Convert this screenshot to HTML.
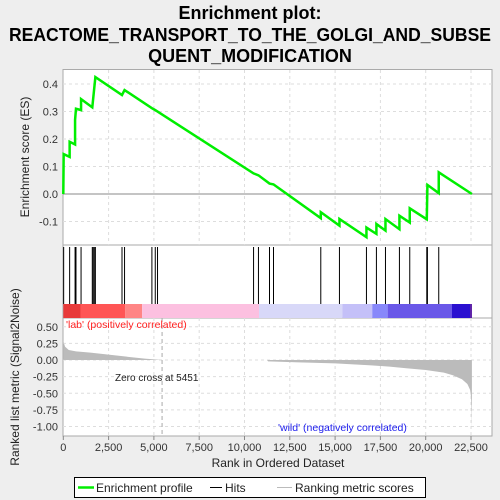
<!DOCTYPE html>
<html><head><meta charset="utf-8"><style>
body{margin:0;background:#eeeeee;}
svg{display:block;font-family:"Liberation Sans",sans-serif;}
</style></head><body>
<svg id="chart" width="500" height="500" viewBox="0 0 500 500" xmlns="http://www.w3.org/2000/svg">
<rect width="500" height="500" fill="#eeeeee"/>
<g font-weight="bold" font-size="18" text-anchor="middle" fill="#000">
<text x="250" y="19">Enrichment plot:</text>
<text x="250" y="41" textLength="482" lengthAdjust="spacingAndGlyphs">REACTOME_TRANSPORT_TO_THE_GOLGI_AND_SUBSE</text>
<text x="250" y="62">QUENT_MODIFICATION</text>
</g>
<g id="g"></g>
</svg>
<script>
const xTicks=[0,2500,5000,7500,10000,12500,15000,17500,20000,22500];
const xTickLabels=["0","2,500","5,000","7,500","10,000","12,500","15,000","17,500","20,000","22,500"];
const esTicks=[-0.1,0,0.1,0.2,0.3,0.4];
const esTickLabels=["-0.1","0.0","0.1","0.2","0.3","0.4"];
const metricTicks=[0.5,0.25,0,-0.25,-0.5,-0.75,-1.0];
const metricTickLabels=["0.50","0.25","0.00","-0.25","-0.50","-0.75","-1.00"];
const nGenes=22550;
const hitRanks=[20,350,650,700,980,1600,1650,1710,1770,3240,3380,4890,5075,5200,10500,10770,11380,11600,14210,15240,16730,17280,17780,18550,19120,20060,20095,20720];
const esRanks=[0,20,350,350,650,650,700,980,980,1600,1770,3240,3380,4890,5075,10500,10770,11380,11600,14210,14210,15240,15240,16730,16730,17280,17280,17780,17780,18550,18550,19120,19120,20060,20095,20720,20720,22550];
const esValues=[0,0.145,0.135,0.19,0.18,0.27,0.31,0.305,0.345,0.315,0.425,0.36,0.378,0.312,0.305,0.075,0.068,0.038,0.035,-0.088,-0.066,-0.115,-0.091,-0.157,-0.122,-0.145,-0.109,-0.133,-0.091,-0.128,-0.079,-0.104,-0.052,-0.092,0.033,0.003,0.079,0];
const metricRanks=[0,100,300,700,1500,2500,3500,4500,5451,11250,11300,13000,15000,17000,18000,19000,20000,21000,21500,22000,22300,22450,22500,22530,22550];
const metricValues=[0.28,0.2,0.15,0.13,0.11,0.08,0.05,0.02,0,0,-0.02,-0.035,-0.05,-0.08,-0.1,-0.125,-0.15,-0.19,-0.23,-0.29,-0.36,-0.45,-0.55,-0.75,-1.05];
const barStarts=[0,950,3420,4350,10800,15400,17050,17900,21450,22450];
const barColors=["#e83a3a","#ff5555","#ff8585","#fcc0e0","#d8d8f8","#c4c0f8","#8888fa","#6a58e8","#2a10d0","#5010a0"];

const L=63,R=492,ppr=(471-63.3)/22500;
const X=r=>63.3+r*ppr;
const yES=v=>194-v*275;
const yM=v=>360-v*66.5;
const NS="http://www.w3.org/2000/svg";
const g=document.getElementById('g');
function el(t,a,p){const e=document.createElementNS(NS,t);for(const k in a)e.setAttribute(k,a[k]);(p||g).appendChild(e);return e;}

// panels
let p1=el('rect',{x:L,y:69.5,width:R-L,height:175.5,fill:'#fff',stroke:'#aaa'});


let p2=el('rect',{x:L,y:245,width:R-L,height:73,fill:'#fff',stroke:'#aaa'});


let p3=el('rect',{x:L,y:318,width:R-L,height:118,fill:'#fff',stroke:'#aaa'});



// grids
xTicks.forEach(t=>{
 if(t===0)return;
 let l=el('line',{x1:X(t),x2:X(t),y1:70,y2:245,stroke:'#ddd','stroke-dasharray':'3,3'});
 
 
 let l2=el('line',{x1:X(t),x2:X(t),y1:318,y2:436,stroke:'#ddd','stroke-dasharray':'3,3'});
 
 
});
esTicks.forEach((t,i)=>{
 let l=el('line',{x1:L,x2:R,y1:yES(t),y2:yES(t),stroke:t===0?'#888':'#ddd','stroke-dasharray':t===0?'':'3,3'});
 
 
 let tx=el('text',{x:58,y:yES(t)+4,'font-size':11,'text-anchor':'end',fill:'#333'});tx.textContent=esTickLabels[i];
 
 
});
metricTicks.forEach((t,i)=>{
 let l=el('line',{x1:L,x2:R,y1:yM(t),y2:yM(t),stroke:'#ddd','stroke-dasharray':'3,3'});
 
 
 let tx=el('text',{x:58,y:yM(t)+4,'font-size':11,'text-anchor':'end',fill:'#333'});tx.textContent=metricTickLabels[i];
 
 
});

// metric area
let pts=metricRanks.map((r,i)=>X(r)+','+yM(metricValues[i]));
pts.push(X(nGenes)+','+yM(0));
let area=el('polygon',{points:X(0)+','+yM(0)+' '+pts.join(' '),fill:'#bbbbbb'});


// zero cross
let zc=el('line',{x1:X(5451),x2:X(5451),y1:318,y2:436,stroke:'#aaa','stroke-dasharray':'4,3'});


let zt=el('text',{x:115,y:381,'font-size':10,fill:'#222'});zt.textContent='Zero cross at 5451';


let lab=el('text',{x:66,y:328,'font-size':10.5,fill:'#ff2020'});lab.textContent="'lab' (positively correlated)";


let wl=el('text',{x:278,y:431,'font-size':10.5,fill:'#2020ee'});wl.textContent="'wild' (negatively correlated)";



// color bar
barStarts.forEach((s,i)=>{
 const e=i<barStarts.length-1?barStarts[i+1]:nGenes;
 let r=el('rect',{x:X(s),y:304,width:X(e)-X(s),height:14,fill:barColors[i]});
 
 
});
// hits
hitRanks.forEach(r=>{
 let l=el('line',{x1:X(r),x2:X(r),y1:247,y2:304,stroke:'#000','stroke-width':1});
 
 
});
// ES curve
let es=el('polyline',{points:esRanks.map((r,i)=>X(r)+','+yES(esValues[i])).join(' '),fill:'none',stroke:'#00ee00','stroke-width':2.5});



// x ticks
xTicks.forEach((t,i)=>{
 let l=el('line',{x1:X(t),x2:X(t),y1:436,y2:440,stroke:'#888'});
 
 
 let tx=el('text',{x:X(t),y:451,'font-size':11,'text-anchor':'middle',fill:'#333'});tx.textContent=xTickLabels[i];
 
 
});
let xt=el('text',{x:278,y:467,'font-size':12,'text-anchor':'middle',fill:'#222'});xt.textContent='Rank in Ordered Dataset';


let yt=el('text',{x:0,y:0,'font-size':12,'text-anchor':'middle',fill:'#222',transform:'translate(29,157) rotate(-90)'});yt.textContent='Enrichment score (ES)';


let yt2=el('text',{x:0,y:0,'font-size':12,'text-anchor':'middle',fill:'#222',transform:'translate(19,377) rotate(-90)'});yt2.textContent='Ranked list metric (Signal2Noise)';



// legend
let lg=el('g',{});


el('rect',{x:74.5,y:477.5,width:351,height:20,fill:'#fff',stroke:'#000'},lg);
el('line',{x1:78,x2:94,y1:487.5,y2:487.5,stroke:'#00ee00','stroke-width':2.5},lg);
let t1=el('text',{x:96,y:492,'font-size':12,fill:'#222'},lg);t1.textContent='Enrichment profile';


el('line',{x1:210,x2:222,y1:487.5,y2:487.5,stroke:'#000'},lg);
let t2=el('text',{x:225,y:492,'font-size':12,fill:'#222'},lg);t2.textContent='Hits';


el('line',{x1:277,x2:292,y1:487.5,y2:487.5,stroke:'#bbb'},lg);
let t3=el('text',{x:295,y:492,'font-size':12,fill:'#222'},lg);t3.textContent='Ranking metric scores';


</script>
</body></html>
